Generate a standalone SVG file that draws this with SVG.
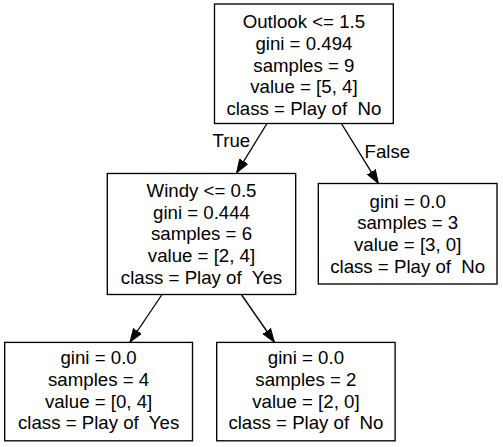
<svg xmlns="http://www.w3.org/2000/svg" width="503" height="447" viewBox="0 0 503 447">
<style>
rect.node{fill:#fff;stroke:#000;stroke-width:1.33}
text{font-family:"Liberation Sans",Arial,Helvetica,sans-serif;font-size:18.67px;fill:#000;text-anchor:middle}
.edge line{stroke:#000;stroke-width:1.33}
text.el{text-anchor:start}
</style>
<defs>
<marker id="arr" markerUnits="userSpaceOnUse" viewBox="0 0 14 10" refX="13.3" refY="5" markerWidth="14" markerHeight="10" orient="auto">
<path d="M0,0.3 L13.3,5 L0,9.7 z" fill="#000" stroke="#000" stroke-width="1"/>
</marker>
</defs>
<rect width="503" height="447" fill="#fff"/>
<g id="edges" class="edge">
<line x1="266.7" y1="124" x2="236.7" y2="172.7" marker-end="url(#arr)"/>
<text class="el" x="212.5" y="146.7">True</text>
<line x1="341.7" y1="124" x2="378.3" y2="183.3" marker-end="url(#arr)"/>
<text class="el" x="364.5" y="158.3">False</text>
<line x1="161.7" y1="295" x2="130" y2="342" marker-end="url(#arr)"/>
<line x1="241.7" y1="295" x2="274.3" y2="342" marker-end="url(#arr)"/>
</g>
<g id="node0">
<rect class="node" x="214.5" y="4" width="178.8" height="119.5"/>
<text x="303.9" y="28">Outlook &lt;= 1.5</text>
<text x="303.9" y="49.8">gini = 0.494</text>
<text x="303.9" y="71.5">samples = 9</text>
<text x="303.9" y="93.2">value = [5, 4]</text>
<text x="303.9" y="115" xml:space="preserve">class = Play of  No</text>
</g>
<g id="node1">
<rect class="node" x="107.3" y="173.5" width="188.4" height="121"/>
<text x="201.5" y="196.8">Windy &lt;= 0.5</text>
<text x="201.5" y="218.6">gini = 0.444</text>
<text x="201.5" y="240.4">samples = 6</text>
<text x="201.5" y="262.2">value = [2, 4]</text>
<text x="201.5" y="284" xml:space="preserve">class = Play of  Yes</text>
</g>
<g id="node2">
<rect class="node" x="4.7" y="342.4" width="187.8" height="98.4"/>
<text x="98.6" y="364.3">gini = 0.0</text>
<text x="98.6" y="386">samples = 4</text>
<text x="98.6" y="407.7">value = [0, 4]</text>
<text x="98.6" y="429.4" xml:space="preserve">class = Play of  Yes</text>
</g>
<g id="node3">
<rect class="node" x="216.7" y="342.4" width="178.4" height="98.4"/>
<text x="305.9" y="364.3">gini = 0.0</text>
<text x="305.9" y="386">samples = 2</text>
<text x="305.9" y="407.7">value = [2, 0]</text>
<text x="305.9" y="429.4" xml:space="preserve">class = Play of  No</text>
</g>
<g id="node4">
<rect class="node" x="318.3" y="183.5" width="178.7" height="100.5"/>
<text x="407.7" y="207.6">gini = 0.0</text>
<text x="407.7" y="229.4">samples = 3</text>
<text x="407.7" y="251.2">value = [3, 0]</text>
<text x="407.7" y="273" xml:space="preserve">class = Play of  No</text>
</g>
</svg>
